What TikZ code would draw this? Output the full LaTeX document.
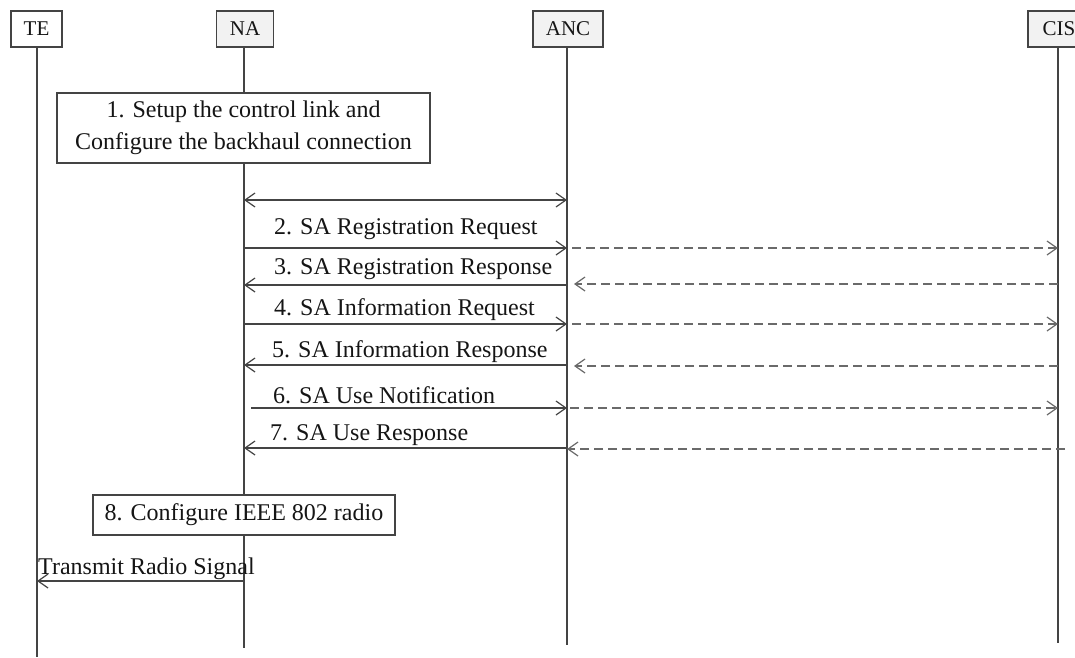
\documentclass[tikz,border=0pt]{standalone}
\usepackage{fontspec}
\setmainfont{Liberation Serif}
\usetikzlibrary{arrows.meta}
\definecolor{lifegray}{HTML}{444444}
\definecolor{dashgray}{HTML}{6A6A6A}
\definecolor{headfill}{HTML}{F2F2F2}
\definecolor{ink}{HTML}{151515}
\begin{document}
\begin{tikzpicture}[x=1pt,y=-1pt,
  every node/.style={text=ink},
  head/.style={draw=lifegray, line width=1.2pt, fill=headfill, minimum height=36pt,
    inner sep=0pt, font=\fontsize{21}{24}\selectfont},
  life/.style={draw=lifegray, line width=1.2pt},
  stepbox/.style={draw=lifegray, line width=1.2pt, fill=white, inner sep=0pt,
    align=center, font=\fontsize{24}{32}\selectfont},
  msg/.style={draw=lifegray, line width=1.2pt, -{Straight Barb[length=10pt,width=14pt]}},
  twoway/.style={draw=lifegray, line width=1.2pt,
    {Straight Barb[length=10pt,width=14pt]}-{Straight Barb[length=10pt,width=14pt]}},
  relay/.style={draw=dashgray, line width=1.2pt, dash pattern=on 9pt off 5pt,
    -{Straight Barb[length=10pt,width=14pt]}},
  lbl/.style={anchor=west, inner sep=0pt, font=\fontsize{24}{28}\selectfont}
]
\clip (0,0) rectangle (1075,657);
\useasboundingbox (0,0) rectangle (1075,657);

% participants
\node[head, fill=white, minimum width=51pt] (te)  at (36.5,29) {TE};
\node[head, minimum width=57pt] (na)  at (245,29) {NA};
\node[head, minimum width=70pt] (anc) at (568,29) {ANC};
\node[head, minimum width=62pt] (cis) at (1059,29) {CIS};

% lifeline ends
\coordinate (te-end)  at (37,657);
\coordinate (na-end)  at (244,648);
\coordinate (anc-end) at (567,645);
\coordinate (cis-end) at (1058,643);

\draw[life] (te.south -| te-end) -- (te-end);
\draw[life] (na.south -| na-end) -- (na-end);
\draw[life] (anc.south -| anc-end) -- (anc-end);
\draw[life] (cis.south -| cis-end) -- (cis-end);

% step boxes, centred on the NA lifeline
\node[stepbox, minimum width=373pt, minimum height=70pt] (s1) at (243.5,128)
  {1. Setup the control link and\\Configure the backhaul connection};
\node[stepbox, minimum width=302pt, minimum height=40pt] (s8) at (244,515)
  {8. Configure IEEE 802 radio};

% message end points on the lifelines
\foreach \n/\y in {a/200, b/248, c/285, d/324, e/365, f/408, g/448, h/581}{
  \coordinate (na-\n)  at (na-end |- 0,\y);
  \coordinate (anc-\n) at (anc-end |- 0,\y);
  \coordinate (cis-\n) at (cis-end |- 0,\y);
  \coordinate (te-\n)  at (te-end |- 0,\y);
}
\coordinate (na-f0)   at (251,408);
\coordinate (anc-b1)  at (572,248);
\coordinate (anc-c1)  at (574,284);
\coordinate (anc-d1)  at (572,324);
\coordinate (anc-e1)  at (574,366);
\coordinate (anc-f1)  at (570,408);
\coordinate (cis-g1)  at (1065,449);
\coordinate (anc-g1)  at (567,449);

% labels
\node[lbl] (l2) at (274,229) {2. SA Registration Request};
\node[lbl] (l3) at (274,269) {3. SA Registration Response};
\node[lbl] (l4) at (274,310) {4. SA Information Request};
\node[lbl] (l5) at (272,352) {5. SA Information Response};
\node[lbl] (l6) at (273,395) {6. SA Use Notification};
\node[lbl] (l7) at (270,435) {7. SA Use Response};
\node[lbl] (l9) at (38,569) {Transmit Radio Signal};

% messages
\draw[twoway] (na-a) -- (anc-a);
\draw[msg] (na-b) -- (anc-b);
\draw[relay] (anc-b1) -- (cis-b);
\draw[msg] (anc-c) -- (na-c);
\draw[relay] (cis-c |- anc-c1) -- (anc-c1);
\draw[msg] (na-d) -- (anc-d);
\draw[relay] (anc-d1) -- (cis-d);
\draw[msg] (anc-e) -- (na-e);
\draw[relay] (cis-e |- anc-e1) -- (anc-e1);
\draw[msg] (na-f0) -- (anc-f);
\draw[relay] (anc-f1) -- (cis-f);
\draw[msg] (anc-g) -- (na-g);
\draw[relay] (cis-g1) -- (anc-g1);
\draw[msg] (na-h) -- (te-h);
\end{tikzpicture}
\end{document}
